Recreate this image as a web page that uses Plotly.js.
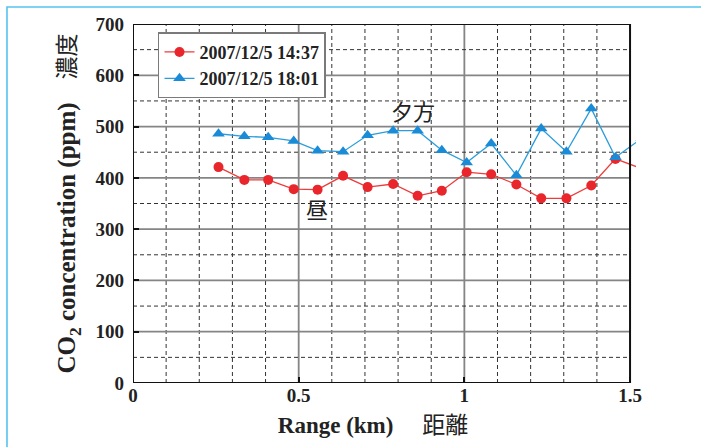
<!DOCTYPE html>
<html>
<head>
<meta charset="utf-8">
<script src="https://cdn.plot.ly/plotly-3.0.1.min.js"></script>
<style>
  html, body { margin: 0; padding: 0; background: #ffffff; }
  #chart { width: 701px; height: 447px; }
</style>
</head>
<body>
<div id="chart"></div>
<script>
// ---- data ----
const rangeKm = [0.258, 0.336, 0.408, 0.485, 0.557, 0.634, 0.708, 0.785, 0.859, 0.932,
                 1.007, 1.081, 1.157, 1.232, 1.308, 1.383, 1.456, 1.535];
const co2Noon = [421, 396, 396, 378, 377, 404, 382, 388, 365, 375,
                 411, 407, 387, 360, 360, 385, 437, 418];
const co2Evening = [486, 481, 479, 472, 453, 451, 483, 492, 492, 454,
                    430, 467, 405, 496, 451, 535, 440, 477];
const seriesNames = ["2007/12/5 14:37", "2007/12/5 18:01"];
const xTickVals = [0, 0.5, 1, 1.5];
const xTickText = ["0", "0.5", "1", "1.5"];
const yTickVals = [0, 100, 200, 300, 400, 500, 600, 700];
const labelNoon = "昼";
const labelEvening = "夕方";

// ---- styling ----
const SERIF = "Liberation Serif";
const CJK = "Noto Sans CJK JP";
const X_MAX = 1.5, Y_MAX = 700;

const shapes = [];
// vertical grid: every 0.1 km, solid at 0.5 multiples
for (let i = 1; i < 15; i++) {
  const x = i / 10;
  const major = (i % 5 === 0);
  shapes.push({type: "line", xref: "x", yref: "y", x0: x, x1: x, y0: 0, y1: Y_MAX, layer: "below",
    line: major ? {color: "#858585", width: 1.8} : {color: "#333333", width: 1, dash: "4px,3px"}});
}
// horizontal grid: every 50 ppm, solid at 100 multiples
for (let j = 1; j < 14; j++) {
  const y = j * 50;
  const major = (j % 2 === 0);
  shapes.push({type: "line", xref: "x", yref: "y", x0: 0, x1: X_MAX, y0: y, y1: y, layer: "below",
    line: major ? {color: "#858585", width: 1.8} : {color: "#333333", width: 1, dash: "4px,3px"}});
}
// plot frame
shapes.push({type: "rect", xref: "x", yref: "y", x0: 0, x1: X_MAX, y0: 0, y1: Y_MAX, layer: "above",
  line: {color: "#111111", width: 2}});
// light blue page frame (top + left)
shapes.push({type: "path", xref: "paper", yref: "paper",
  path: "M -0.2505,-0.25 L -0.2505,1.0474 L 1.2,1.0474", layer: "above",
  line: {color: "#55c3ee", width: 1.6}});

const traces = [
  {
    x: rangeKm, y: co2Noon, name: seriesNames[0], type: "scatter", mode: "lines+markers",
    line: {color: "#ee3b3b", width: 1.3},
    marker: {symbol: "circle", size: 10, color: "#e8262b"}
  },
  {
    x: rangeKm, y: co2Evening, name: seriesNames[1], type: "scatter", mode: "lines+markers",
    line: {color: "#2b9ddb", width: 1.3},
    marker: {symbol: "triangle-up", size: 11, color: "#1a8bd6"}
  }
];

const layout = {
  width: 701, height: 447,
  margin: {l: 133, r: 65, t: 24, b: 64, pad: 0},
  paper_bgcolor: "#ffffff", plot_bgcolor: "#ffffff",
  font: {family: SERIF, color: "#222222"},
  showlegend: true,
  legend: {
    x: 0.0497, y: 0.977, xanchor: "left", yanchor: "top",
    bgcolor: "#ffffff", bordercolor: "#7a7a7a", borderwidth: 1.5,
    font: {family: SERIF, size: 18, color: "#222222", weight: 700},
    itemwidth: 30, tracegroupgap: 0
  },
  xaxis: {
    range: [0, 1.518], showgrid: false, zeroline: false, showline: false,
    tickmode: "array", tickvals: xTickVals, ticktext: xTickText,
    ticks: "inside", ticklen: 6, tickwidth: 2, tickcolor: "#111111",
    ticklabelstandoff: -1,
    tickfont: {family: SERIF, size: 19, color: "#222222", weight: 700},
    title: {
      text: "<b>Range (km)</b>\u00a0<span style=\"font-family:Noto Sans CJK JP\">\u3000距離\u3000</span>",
      font: {family: SERIF, size: 23, color: "#222222"},
      standoff: 8
    }
  },
  yaxis: {
    range: [0, Y_MAX], showgrid: false, zeroline: false, showline: false,
    tickmode: "array", tickvals: yTickVals,
    ticks: "inside", ticklen: 6, tickwidth: 2, tickcolor: "#111111",
    ticklabelstandoff: 8,
    tickfont: {family: SERIF, size: 19, color: "#222222", weight: 700},
    title: {
      text: "<b>CO<sub>2</sub> concentration (ppm)</b><span style=\"font-family:Noto Sans CJK JP;font-size:23px\">\u3000濃度</span>",
      font: {family: SERIF, size: 25, color: "#222222"},
      standoff: 12
    }
  },
  shapes: shapes,
  annotations: [
    {x: 0.845, y: 532, xref: "x", yref: "y", text: labelEvening, showarrow: false,
     font: {family: CJK, size: 22, color: "#222222"}, xanchor: "center", yanchor: "middle"},
    {x: 0.554, y: 342, xref: "x", yref: "y", text: labelNoon, showarrow: false,
     font: {family: CJK, size: 22, color: "#222222"}, xanchor: "center", yanchor: "middle"}
  ]
};

Plotly.newPlot("chart", traces, layout, {displayModeBar: false, staticPlot: true});
</script>
</body>
</html>
